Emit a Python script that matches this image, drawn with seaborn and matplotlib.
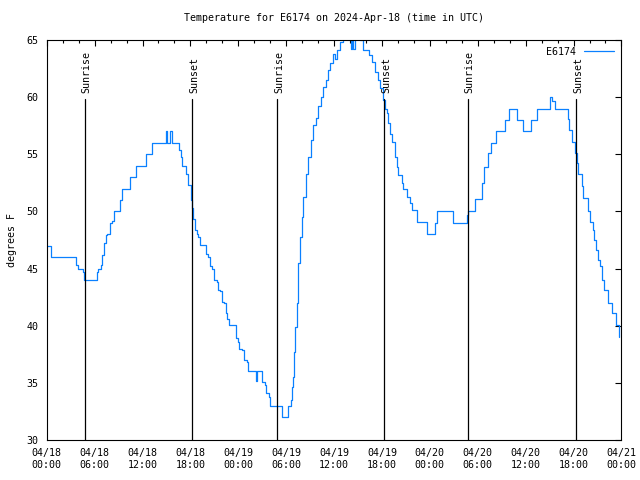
import pandas as pd
import seaborn as sns
import matplotlib.pyplot as plt
import matplotlib.dates as mdates

# hours since 2024-04-18 00:00 UTC and temperature (F)
hours = [0.0, 0.58, 3.71, 3.96, 4.55, 4.71, 6.22, 6.34, 6.47, 6.77, 6.97, 7.18, 7.39, 7.59,
         7.89, 8.22, 8.43, 9.19, 9.47, 10.44, 11.23, 12.44, 13.23, 14.95, 15.08, 15.49,
         15.66, 16.58, 16.79, 16.99, 17.42, 17.71, 18.05, 18.25, 18.37, 18.58, 18.8, 19.0,
         19.21, 19.96, 20.25, 20.46, 20.71, 20.97, 21.3, 21.43, 21.72, 21.93, 22.26, 22.43,
         22.63, 22.84, 23.72, 23.93, 24.14, 24.51, 24.72, 25.06, 25.26, 26.19, 26.39, 27.02,
         27.36, 27.48, 27.86, 28.02, 29.52, 30.08, 30.28, 30.58, 30.7, 30.83, 30.99, 31.15,
         31.33, 31.53, 31.74, 31.95, 32.16, 32.49, 32.78, 33.08, 33.41, 33.75, 34.04, 34.34,
         34.66, 35.0, 35.29, 35.5, 35.92, 36.13, 36.34, 36.75, 37.13, 37.88, 38.13, 38.26,
         38.42, 38.57, 39.26, 39.67, 40.43, 40.73, 41.18, 41.55, 41.77, 42.18, 42.39, 42.61,
         42.81, 43.02, 43.23, 43.65, 43.86, 44.06, 44.49, 44.69, 45.11, 45.53, 45.74, 46.36,
         47.62, 48.66, 48.87, 50.95, 52.63, 52.83, 53.67, 54.59, 54.84, 55.34, 55.64, 56.3,
         57.43, 57.97, 58.97, 59.72, 60.65, 61.48, 63.07, 63.28, 63.7, 65.29, 65.49, 65.79,
         66.2, 66.42, 66.62, 67.04, 67.24, 67.79, 68.08, 68.42, 68.58, 68.83, 69.12, 69.34,
         69.55, 69.84, 70.3, 70.82, 71.3, 71.73]
temps = [47.0, 46.0, 45.3, 45.0, 44.7, 44.0, 44.0, 44.7, 45.0, 45.3, 46.2, 47.2, 47.9, 48.0,
         49.0, 49.2, 50.0, 51.0, 52.0, 53.0, 54.0, 55.0, 56.0, 57.0, 56.0, 57.0,
         56.0, 55.4, 54.8, 54.0, 53.3, 52.3, 51.0, 50.3, 49.3, 48.4, 48.0, 47.8,
         47.1, 46.3, 46.0, 45.2, 45.0, 44.0, 43.8, 43.1, 43.0, 42.1, 42.0, 41.1,
         40.6, 40.1, 38.9, 38.6, 38.0, 37.9, 37.0, 36.8, 36.0, 35.2, 36.0, 35.1,
         34.8, 34.1, 33.8, 33.0, 32.0, 32.0, 33.0, 33.5, 34.6, 35.5, 37.7, 39.9,
         42.0, 45.5, 47.8, 49.5, 51.3, 53.3, 54.8, 56.25, 57.6, 58.15, 59.2, 60.0,
         60.9, 61.5, 62.4, 63.0, 63.8, 63.3, 64.1, 64.85, 66.0, 65.5, 64.2, 65.5,
         64.2, 66.0, 65.0, 64.1, 63.7, 63.1, 62.2, 61.5, 60.8, 59.75, 59.0, 58.6,
         57.7, 56.8, 56.1, 54.8, 53.9, 53.2, 52.5, 52.0, 51.3, 50.7, 50.1, 49.1,
         48.0, 49.0, 50.0, 49.0, 49.7, 50.0, 51.1, 52.5, 53.9, 55.1, 56.0, 57.0,
         58.0, 59.0, 58.0, 57.0, 58.0, 59.0, 60.0, 59.7, 59.0, 58.1, 57.1, 56.1,
         55.1, 54.2, 53.3, 52.2, 51.2, 50.0, 49.1, 48.4, 47.5, 46.6, 45.75, 45.2,
         44.0, 43.1, 42.0, 41.1, 40.1, 39.0]

sun_hours = [4.8, 18.25, 28.9, 42.3, 52.8, 66.35]
sun_labels = ["Sunrise", "Sunset", "Sunrise", "Sunset", "Sunrise", "Sunset"]

start = pd.Timestamp("2024-04-18 00:00")
df = pd.DataFrame({"time": start + pd.to_timedelta(hours, unit="h"), "temp": temps})

sns.set_style("white")
plt.rcParams["font.family"] = ["DejaVu Sans Mono"]
plt.rcParams["text.color"] = "black"
plt.rcParams["xtick.color"] = "black"
plt.rcParams["ytick.color"] = "black"
plt.rcParams["axes.labelcolor"] = "black"

fig = plt.figure(figsize=(6.4, 4.8), dpi=100)
ax = fig.add_axes([0.073, 0.0833, 0.898, 0.8334])

sns.lineplot(data=df, x="time", y="temp", ax=ax, color="#0a80ff", linewidth=0.9,
             drawstyle="steps-post", label="E6174")

for h, lab in zip(sun_hours, sun_labels):
    t = start + pd.Timedelta(hours=h)
    ax.plot([t, t], [30, 59.8], color="black", linewidth=0.9)
    ax.text(t + pd.Timedelta(minutes=12), 60.4, lab, rotation=90, ha="center", va="bottom", fontsize=7.2)

ax.set_xlim(start, start + pd.Timedelta(hours=72))
ax.set_ylim(30, 65)
ax.set_yticks(range(30, 66, 5))
ax.xaxis.set_major_locator(mdates.HourLocator(byhour=range(0, 24, 6)))
ax.xaxis.set_minor_locator(mdates.HourLocator(byhour=range(0, 24, 2)))
ax.xaxis.set_major_formatter(mdates.DateFormatter("%m/%d\n%H:%M"))
ax.tick_params(which="both", direction="in", top=True, right=True, labelsize=7.2, width=0.8)
ax.tick_params(which="major", length=4, pad=6)
ax.tick_params(which="minor", length=2.5)
for s in ax.spines.values():
    s.set_linewidth(0.8)
    s.set_color("black")

ax.set_xlabel("")
ax.set_ylabel("degrees F", fontsize=7.2, labelpad=7)
ax.set_title("Temperature for E6174 on 2024-Apr-18 (time in UTC)", fontsize=7.2, pad=14)
ax.legend(loc="upper right", frameon=False, markerfirst=False, fontsize=7.2,
          handlelength=3.0, borderaxespad=0.3)

fig.savefig("out.png", dpi=100)
